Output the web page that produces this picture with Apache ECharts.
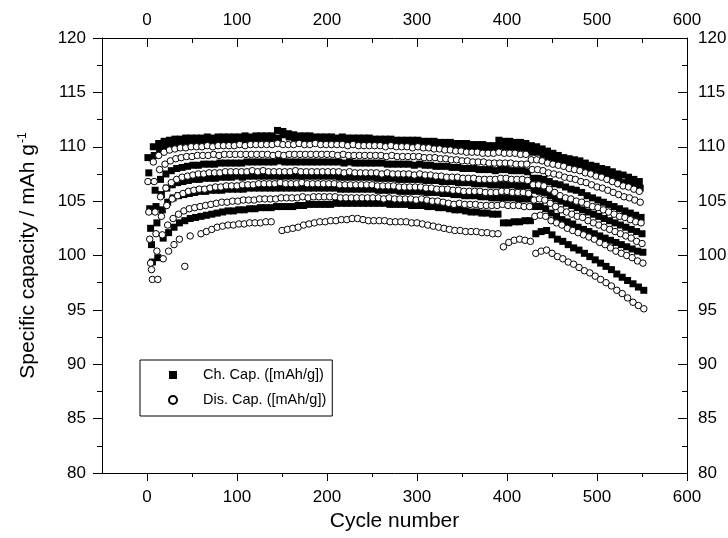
<!DOCTYPE html>
<html><head><meta charset="utf-8">
<script src="https://cdn.jsdelivr.net/npm/echarts@6/dist/echarts.min.js"></script>
<style>html,body{margin:0;padding:0;background:#fff}#c{width:728px;height:538px}</style>
</head><body><div id="c"></div><script>
// ---- axis ticks ----
const xTicks = [0, 100, 200, 300, 400, 500, 600];
const xMinorTicks = [50, 150, 250, 350, 450, 550];
// ---- data: each row holds every 6th cycle, starting at its offset ----
const rowStep = 6;
const rowOffsets = [1, 2, 3, 4, 5, 6];

// Charge capacity rows (mAh/g)
const chC1 = [109.0,110.0,110.3,110.5,110.6,110.7,110.7,110.8,110.8,110.8,
110.8,110.9,110.8,110.9,110.9,110.9,110.9,110.9,111.0,110.9,
111.0,111.0,111.0,111.0,111.5,111.4,111.2,111.1,111.0,111.0,
111.0,110.9,110.9,110.9,110.9,110.8,110.9,110.8,110.8,110.8,
110.8,110.8,110.7,110.7,110.7,110.7,110.6,110.6,110.6,110.6,
110.6,110.5,110.5,110.5,110.4,110.4,110.4,110.3,110.3,110.3,
110.2,110.2,110.2,110.1,110.1,
110.6,110.5,110.5,110.4,110.4,110.3,
110.1,110.0,109.8,109.6,109.4,109.2,109.0,108.9,108.8,108.7,
108.5,108.3,108.2,108.0,107.9,107.7,107.5,107.4,107.2,107.0,106.8];
const chC2 = [107.6,109.2,109.8,110.1,110.2,110.3,110.4,110.4,110.4,110.5,
110.5,110.5,110.5,110.6,110.5,110.6,110.6,110.6,110.6,110.6,
110.7,110.6,110.7,110.7,110.8,111.1,110.9,110.8,110.7,110.7,
110.6,110.6,110.6,110.6,110.5,110.5,110.5,110.5,110.4,110.4,
110.4,110.4,110.3,110.3,110.3,110.3,110.2,110.2,110.2,110.1,
110.1,110.1,110.0,110.0,110.0,109.9,109.9,109.9,109.8,109.8,
109.8,109.7,109.7,109.7,109.6,
110.1,110.0,110.0,109.9,109.9,109.8,
109.5,109.5,109.3,109.1,108.9,108.7,108.6,108.4,108.3,108.1,
108.0,107.8,107.6,107.5,107.3,107.1,106.9,106.7,106.6,106.4,106.2];
const chC3 = [104.3,106.0,107.0,107.5,107.8,108.0,108.1,108.2,108.3,108.3,
108.4,108.4,108.4,108.5,108.5,108.5,108.5,108.5,108.6,108.6,
108.6,108.6,108.6,108.6,108.7,108.6,108.6,108.6,108.6,108.6,
108.6,108.6,108.6,108.6,108.6,108.6,108.5,108.6,108.5,108.5,
108.5,108.5,108.5,108.5,108.4,108.4,108.4,108.4,108.4,108.3,
108.4,108.3,108.3,108.2,108.2,108.2,108.1,108.1,108.0,108.0,
108.0,107.9,107.9,107.9,107.8,
107.9,107.9,107.8,107.8,107.8,107.7,
107.1,107.1,107.0,106.8,106.6,106.5,106.3,106.1,106.0,105.8,
105.5,105.3,105.1,104.9,104.7,104.5,104.3,104.1,103.9,103.7,103.5];
const chC4 = [102.5,104.5,105.6,106.2,106.5,106.7,106.8,106.9,107.0,107.0,
107.1,107.1,107.1,107.2,107.2,107.2,107.3,107.2,107.3,107.3,
107.3,107.3,107.3,107.3,107.3,107.3,107.3,107.3,107.3,107.3,
107.3,107.3,107.3,107.3,107.3,107.2,107.2,107.2,107.2,107.2,
107.2,107.2,107.1,107.1,107.1,107.1,107.0,107.0,107.0,107.0,
107.0,106.9,106.9,106.9,106.8,106.8,106.8,106.7,106.7,106.7,
106.6,106.6,106.6,106.5,106.5,
106.5,106.5,106.5,106.4,106.4,106.4,
106.0,105.9,105.8,105.5,105.2,105.0,104.8,104.6,104.4,104.2,
104.0,103.8,103.6,103.4,103.2,103.0,102.8,102.6,102.4,102.2,102.0];
const chC5 = [101.0,103.0,104.2,104.9,105.3,105.5,105.6,105.7,105.8,105.9,
105.9,106.0,106.0,106.0,106.1,106.1,106.1,106.1,106.2,106.2,
106.2,106.2,106.2,106.2,106.2,106.2,106.2,106.2,106.2,106.2,
106.2,106.2,106.2,106.2,106.2,106.1,106.1,106.1,106.1,106.1,
106.1,106.1,106.0,106.0,106.0,106.0,105.9,105.9,105.9,105.9,
105.9,105.8,105.8,105.8,105.7,105.7,105.6,105.6,105.5,105.5,
105.5,105.4,105.4,105.3,105.3,
105.3,105.3,105.3,105.2,105.2,105.2,
104.5,104.5,104.3,103.9,103.6,103.3,103.1,102.9,102.6,102.4,
102.2,102.0,101.8,101.6,101.4,101.2,101.0,100.8,100.6,100.4,100.3];
const chC6 = [99.4,99.8,101.6,102.1,102.6,103.0,103.2,103.4,103.5,103.6,
103.7,103.8,103.9,104.0,104.1,104.1,104.2,104.2,104.3,104.3,
104.4,104.4,104.4,104.5,104.5,104.5,104.5,104.6,104.6,104.7,
104.7,104.7,104.7,104.7,104.8,104.8,104.8,104.8,104.8,104.8,
104.8,104.8,104.8,104.8,104.7,104.7,104.7,104.7,104.6,104.6,
104.6,104.5,104.5,104.4,104.4,104.3,104.2,104.2,104.1,104.0,
104.0,103.9,103.9,103.8,103.8,
103.0,103.0,103.1,103.1,103.2,103.2,
102.0,102.2,102.3,101.9,101.5,101.3,101.0,100.7,100.5,100.2,
99.9,99.6,99.3,99.0,98.7,98.3,98.0,97.7,97.4,97.1,96.8];

// Discharge capacity rows (mAh/g)
const disD1 = [106.8,108.6,109.2,109.5,109.7,109.8,109.9,109.9,110.0,110.0,
110.0,110.1,110.0,110.1,110.1,110.1,110.1,110.2,110.1,110.2,
110.2,110.2,110.2,110.2,110.3,110.2,110.2,110.2,110.3,110.2,
110.2,110.3,110.2,110.2,110.2,110.2,110.2,110.1,110.2,110.1,
110.1,110.1,110.1,110.1,110.0,110.1,110.0,110.0,110.0,109.9,
110.0,109.9,109.9,109.8,109.8,109.7,109.7,109.6,109.6,109.5,
109.5,109.5,109.4,109.4,109.4,
109.5,109.4,109.4,109.4,109.3,109.3,
108.8,108.8,108.7,108.5,108.4,108.3,108.2,108.0,107.9,107.8,
107.6,107.5,107.3,107.2,107.0,106.8,106.6,106.4,106.3,106.1,105.9];
const disD2 = [104.0,106.8,107.9,108.4,108.7,108.9,109.0,109.1,109.1,109.2,
109.2,109.2,109.3,109.2,109.3,109.3,109.3,109.3,109.3,109.3,
109.3,109.3,109.3,109.2,109.3,109.2,109.3,109.3,109.3,109.3,
109.3,109.3,109.3,109.3,109.3,109.2,109.3,109.2,109.2,109.2,
109.2,109.2,109.2,109.2,109.1,109.2,109.1,109.1,109.1,109.1,
109.1,109.0,109.0,109.0,108.9,108.9,108.8,108.8,108.7,108.7,
108.6,108.6,108.6,108.5,108.5,
108.5,108.5,108.5,108.4,108.4,108.4,
107.9,107.9,107.8,107.6,107.5,107.4,107.2,107.1,107.0,106.8,
106.7,106.5,106.3,106.2,106.0,105.8,105.6,105.4,105.3,105.1,104.9];
const disD3 = [101.5,104.0,105.4,106.2,106.7,107.0,107.2,107.3,107.4,107.5,
107.5,107.6,107.6,107.6,107.7,107.7,107.7,107.7,107.7,107.8,
107.7,107.8,107.7,107.7,107.7,107.7,107.7,107.8,107.7,107.7,
107.7,107.7,107.7,107.7,107.7,107.7,107.6,107.7,107.6,107.6,
107.6,107.6,107.6,107.5,107.6,107.5,107.5,107.5,107.5,107.4,
107.5,107.4,107.4,107.3,107.3,107.2,107.2,107.2,107.1,107.1,
107.1,107.0,107.0,107.0,107.0,
107.1,107.1,107.0,107.0,107.0,106.9,
106.5,106.5,106.4,106.1,105.8,105.5,105.3,105.2,105.0,104.9,
104.7,104.5,104.4,104.2,104.0,103.8,103.6,103.5,103.3,103.1,103.0];
const disD4 = [99.3,102.0,103.6,104.6,105.2,105.5,105.7,105.9,106.0,106.1,
106.1,106.2,106.3,106.3,106.4,106.4,106.4,106.5,106.5,106.5,
106.6,106.6,106.6,106.6,106.7,106.6,106.6,106.6,106.7,106.6,
106.6,106.6,106.6,106.6,106.6,106.5,106.5,106.5,106.5,106.5,
106.5,106.5,106.4,106.4,106.4,106.4,106.3,106.3,106.3,106.3,
106.3,106.2,106.2,106.1,106.1,106.1,106.0,106.0,105.9,105.9,
105.9,105.9,105.8,105.8,105.8,
105.9,105.9,105.8,105.8,105.8,105.7,
105.1,105.2,105.1,104.8,104.5,104.2,104.0,103.8,103.6,103.5,
103.2,103.0,102.8,102.6,102.4,102.2,102.0,101.8,101.6,101.3,101.1];
const disD5 = [98.7,100.4,101.9,102.8,103.4,103.8,104.1,104.3,104.4,104.5,
104.6,104.7,104.8,104.9,104.9,105.0,105.0,105.1,105.1,105.1,
105.2,105.2,105.2,105.2,105.3,105.3,105.3,105.3,105.4,105.3,
105.4,105.4,105.4,105.4,105.4,105.3,105.3,105.3,105.3,105.3,
105.3,105.3,105.3,105.2,105.3,105.2,105.2,105.2,105.2,105.1,
105.2,105.1,105.0,105.0,104.9,104.8,104.7,104.8,104.7,104.7,
104.7,104.6,104.6,104.6,104.6,
104.7,104.6,104.6,104.6,104.5,104.5,
103.6,103.7,103.6,103.2,103.0,102.8,102.5,102.3,102.1,101.9,
101.7,101.5,101.2,101.0,100.7,100.4,100.2,100.0,99.8,99.5,99.3];
const disD6 = [97.8,97.8,99.7,100.4,101.0,101.5,99.0,101.8,null,102.0,
102.2,102.4,102.6,102.7,102.8,102.8,102.9,102.9,103.0,103.0,
103.0,103.1,103.1,null,102.3,102.4,102.5,102.6,102.8,102.9,
103.0,103.1,103.1,103.2,103.2,103.3,103.3,103.4,103.4,103.3,
103.2,103.2,103.2,103.2,103.1,103.1,103.1,103.1,103.0,103.0,
102.9,102.8,102.7,102.6,102.5,102.4,102.3,102.3,102.2,102.2,
102.2,102.1,102.1,102.0,102.0,
100.8,101.2,101.4,101.5,101.4,101.3,
100.2,100.4,100.5,100.2,99.9,99.7,99.4,99.2,98.9,98.6,
98.4,98.1,97.8,97.5,97.2,96.8,96.5,96.1,95.7,95.4,95.1];

const chargeRows = [chC1, chC2, chC3, chC4, chC5, chC6];
const dischargeRows = [disD1, disD2, disD3, disD4, disD5, disD6];

function buildPoints(rows) {
  const out = [];
  rows.forEach((row, r) => row.forEach((v, i) => {
    if (v !== null) out.push([rowOffsets[r] + rowStep * i, v]);
  }));
  return out;
}

const FONT = 'Liberation Sans, Arial, sans-serif';
const black = '#000';
const lineStyle = { color: black, width: 1 };

const chart = echarts.init(document.getElementById('c'), null, { renderer: 'canvas' });
chart.setOption({
  animation: false,
  backgroundColor: '#fff',
  grid: { left: 102, right: 41, top: 38, bottom: 65, containLabel: false, outerBoundsMode: 'none' },
  legend: {
    left: 140, top: 360, orient: 'vertical',
    itemWidth: 8, itemHeight: 8, itemGap: 9,
    borderColor: black, borderWidth: 1, borderRadius: 0,
    padding: [7, 6, 8, 28],
    textStyle: { fontFamily: FONT, fontSize: 14.5, lineHeight: 16, color: black, padding: [0, 0, 0, 21] },
    data: ['Ch. Cap. ([mAh/g])', 'Dis. Cap. ([mAh/g])']
  },
  xAxis: [
    {
      type: 'value', min: -50, max: 600, position: 'bottom',
      axisLine: { show: true, onZero: false, lineStyle },
      axisTick: { show: true, inside: false, length: 8, customValues: xTicks, lineStyle },
      axisLabel: { customValues: xTicks, margin: 16, fontFamily: FONT, fontSize: 17, color: black },
      splitLine: { show: false },
      name: 'Cycle number', nameLocation: 'middle', nameGap: 38,
      nameTextStyle: { fontFamily: FONT, fontSize: 21, color: black }
    },
    {
      type: 'value', min: -50, max: 600, position: 'bottom',
      axisLine: { show: false, onZero: false },
      axisTick: { show: true, inside: false, length: 4, customValues: xMinorTicks, lineStyle },
      axisLabel: { show: false }, splitLine: { show: false }
    },
    {
      type: 'value', min: -50, max: 600, position: 'top',
      axisLine: { show: true, onZero: false, lineStyle },
      axisTick: { show: true, inside: true, length: 9, customValues: xTicks, lineStyle },
      axisLabel: { customValues: xTicks, margin: 9, fontFamily: FONT, fontSize: 17, color: black },
      splitLine: { show: false }
    },
    {
      type: 'value', min: -50, max: 600, position: 'top',
      axisLine: { show: false, onZero: false },
      axisTick: { show: true, inside: true, length: 5, customValues: xMinorTicks, lineStyle },
      axisLabel: { show: false }, splitLine: { show: false }
    }
  ],
  yAxis: [
    {
      type: 'value', min: 80, max: 120, interval: 5, position: 'left',
      axisLine: { show: true, onZero: false, lineStyle },
      axisTick: { show: true, inside: false, length: 9, lineStyle },
      minorTick: { show: true, splitNumber: 2, length: 5, lineStyle },
      axisLabel: { margin: 16, fontFamily: FONT, fontSize: 17, color: black },
      splitLine: { show: false },
      name: 'Specific capacity / mAh g{sup|-1}', nameLocation: 'middle', nameGap: 63,
      nameTextStyle: {
        fontFamily: FONT, fontSize: 21, color: black,
        rich: { sup: { fontFamily: FONT, fontSize: 12, color: black, verticalAlign: 'top', padding: [0, 0, 10, 1] } }
      }
    },
    {
      type: 'value', min: 80, max: 120, interval: 5, position: 'right',
      axisLine: { show: true, onZero: false, lineStyle },
      axisTick: { show: true, inside: true, length: 9, lineStyle },
      minorTick: { show: true, splitNumber: 2, length: 5, lineStyle },
      axisLabel: { margin: 11, fontFamily: FONT, fontSize: 17, color: black },
      splitLine: { show: false }
    }
  ],
  series: [
    {
      name: 'Ch. Cap. ([mAh/g])', type: 'scatter', xAxisIndex: 0, yAxisIndex: 0,
      data: buildPoints(chargeRows), symbol: 'rect', symbolSize: 7,
      itemStyle: { color: black, opacity: 1 }, progressive: 0, large: false
    },
    {
      name: 'Dis. Cap. ([mAh/g])', type: 'scatter', xAxisIndex: 0, yAxisIndex: 0,
      data: buildPoints(dischargeRows), symbol: 'circle', symbolSize: 6.5,
      itemStyle: { color: '#fff', borderColor: black, borderWidth: 1, opacity: 1 }, progressive: 0, large: false
    }
  ]
});
</script></body></html>
